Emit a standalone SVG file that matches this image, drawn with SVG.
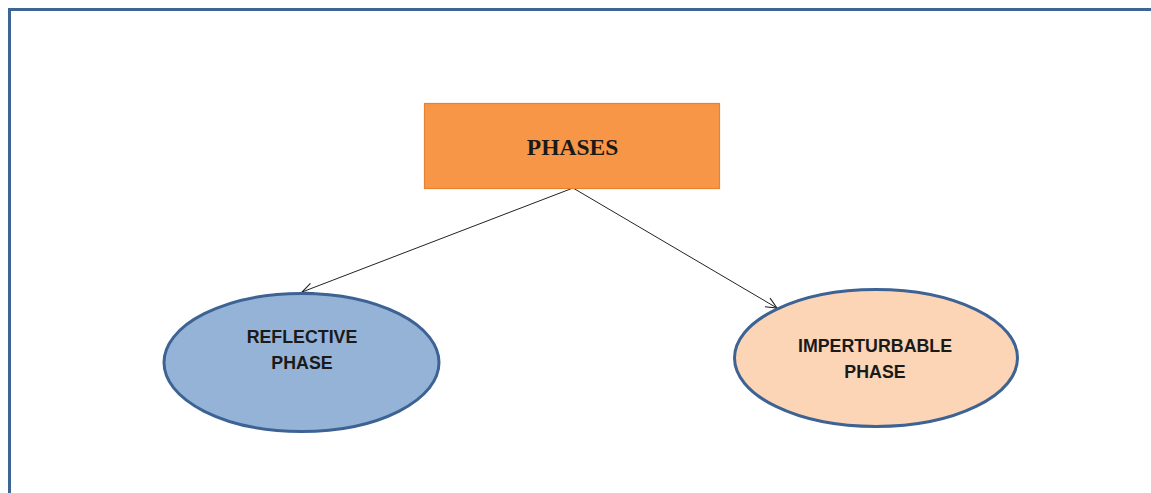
<svg xmlns="http://www.w3.org/2000/svg" width="1151" height="493" viewBox="0 0 1151 493">
<style>
.frame{fill:none;stroke:#3f6597;stroke-width:3}
.box{fill:#f79646;stroke:#e8822e;stroke-width:1.2}
.ell{stroke:#3d6394;stroke-width:3}
.lbl{font-family:"Liberation Sans",Arial,sans-serif;font-weight:bold;font-size:17.8px;fill:#1a1a1a;text-anchor:middle}
.title{font-family:"Liberation Serif","Times New Roman",serif;font-weight:bold;font-size:23.5px;fill:#1a1a1a;text-anchor:middle}
.conn{stroke:#222;stroke-width:1;fill:none}
</style>
<defs>
<marker id="arr" markerWidth="14" markerHeight="12" refX="12" refY="6" orient="auto" markerUnits="userSpaceOnUse">
<polyline points="1,1 12,6 1,11" fill="none" stroke="#222" stroke-width="1.1"/>
</marker>
</defs>
<rect width="1151" height="493" fill="#ffffff"/>
<path class="frame" d="M9.5,493 V9.5 H1151"/>
<g id="connectors">
<line class="conn" x1="573" y1="188" x2="302" y2="292" marker-end="url(#arr)"/>
<line class="conn" x1="573" y1="188" x2="777" y2="308" marker-end="url(#arr)"/>
</g>
<g id="phases">
<rect class="box" x="424.5" y="103.5" width="295" height="85"/>
<text class="title" x="572.5" y="155">PHASES</text>
</g>
<g id="reflective">
<ellipse class="ell" cx="301.5" cy="362.5" rx="137.5" ry="69" fill="#95b3d7"/>
<text class="lbl" x="302" y="343">REFLECTIVE</text>
<text class="lbl" x="302" y="369">PHASE</text>
</g>
<g id="imperturbable">
<ellipse class="ell" cx="876" cy="358" rx="141.5" ry="68.5" fill="#fbd5b5"/>
<text class="lbl" x="875" y="352">IMPERTURBABLE</text>
<text class="lbl" x="875" y="378">PHASE</text>
</g>
</svg>
